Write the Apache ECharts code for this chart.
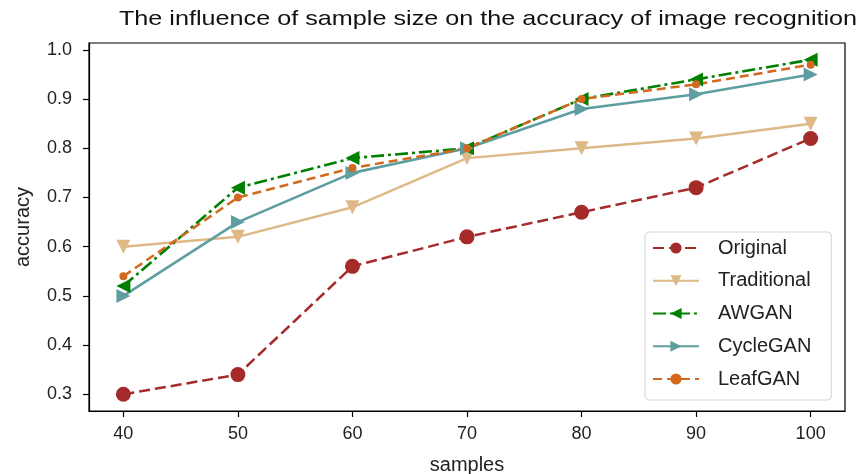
<!DOCTYPE html>
<html>
<head>
<meta charset="utf-8">
<script src="https://cdn.jsdelivr.net/npm/echarts@6/dist/echarts.min.js"></script>
<style>html,body{margin:0;padding:0;background:#fff}#c{width:864px;height:474px}</style>
</head>
<body>
<div id="c"></div>
<script>
var samples = [40, 50, 60, 70, 80, 90, 100];
var original = [0.30, 0.34, 0.56, 0.62, 0.67, 0.72, 0.82];
var traditional = [0.60, 0.62, 0.68, 0.78, 0.80, 0.82, 0.85];
var awgan = [0.52, 0.72, 0.78, 0.80, 0.90, 0.94, 0.98];
var cyclegan = [0.50, 0.65, 0.75, 0.80, 0.88, 0.91, 0.95];
var leafgan = [0.54, 0.70, 0.76, 0.80, 0.90, 0.93, 0.97];
var yTicks = [0.3, 0.4, 0.5, 0.6, 0.7, 0.8, 0.9, 1.0];
var titleText = 'The influence of sample size on the accuracy of image recognition';

function pairs(v) { return samples.map(function (s, i) { return [s, v[i]]; }); }

var FONT = 'Liberation Sans';
var chart = echarts.init(document.getElementById('c'), null, {renderer: 'canvas'});
chart.setOption({
  animation: false,
  backgroundColor: '#fff',
  graphic: [{
    type: 'text', x: 488, y: 19, scaleX: 1.2,
    style: {text: titleText, font: '21px "Liberation Sans"', textAlign: 'center', textVerticalAlign: 'middle', fill: '#111'}
  }],
  grid: {left: 89, right: 19, top: 43, bottom: 63, show: true, borderColor: '#000', borderWidth: 1.2,
    containLabel: false, outerBoundsMode: 'none'},
  xAxis: {
    type: 'value', min: 37, max: 103,
    name: 'samples', nameLocation: 'middle', nameGap: 44,
    nameTextStyle: {fontFamily: FONT, fontSize: 20, color: '#222'},
    axisLine: {show: true, onZero: false, lineStyle: {color: '#000', width: 1.2}},
    axisTick: {show: true, length: 6, customValues: samples, lineStyle: {color: '#000', width: 1.2}},
    axisLabel: {customValues: samples, fontFamily: FONT, fontSize: 18, color: '#222', margin: 14},
    splitLine: {show: false}
  },
  yAxis: {
    type: 'value', min: 0.266, max: 1.014,
    name: 'accuracy', nameLocation: 'middle', nameGap: 56, nameRotate: 90,
    nameTextStyle: {fontFamily: FONT, fontSize: 20, color: '#222'},
    axisLine: {show: true, onZero: false, lineStyle: {color: '#000', width: 1.2}},
    axisTick: {show: true, length: 6, customValues: yTicks, lineStyle: {color: '#000', width: 1.2}},
    axisLabel: {customValues: yTicks, fontFamily: FONT, fontSize: 18, color: '#222', margin: 17,
      formatter: function (v) { return v.toFixed(1); }},
    splitLine: {show: false}
  },
  legend: {
    orient: 'vertical', left: 645, top: 232,
    itemWidth: 46, itemHeight: 14, itemGap: 12.75,
    padding: [6, 20, 11, 7],
    backgroundColor: 'rgba(255,255,255,0.8)', borderColor: '#d6d6d6', borderWidth: 1, borderRadius: 4,
    textStyle: {fontFamily: FONT, fontSize: 20, lineHeight: 20, color: '#222', padding: [0, 0, 0, 14]},
    data: ['Original', 'Traditional', 'AWGAN', 'CycleGAN', 'LeafGAN']
  },
  series: [
    {name: 'Original', type: 'line', data: pairs(original), color: '#A52A2A',
      symbol: 'circle', symbolSize: 15,
      lineStyle: {width: 2.5, type: [11, 5]}, itemStyle: {color: '#A52A2A'}},
    {name: 'Traditional', type: 'line', data: pairs(traditional), color: '#DEB887',
      symbol: 'triangle', symbolRotate: 180, symbolSize: 14,
      lineStyle: {width: 2.5, type: 'solid'}, itemStyle: {color: '#DEB887'}},
    {name: 'AWGAN', type: 'line', data: pairs(awgan), color: '#008000',
      symbol: 'triangle', symbolRotate: 90, symbolSize: 14,
      lineStyle: {width: 2.6, type: [13, 4, 3, 4]}, itemStyle: {color: '#008000'}},
    {name: 'CycleGAN', type: 'line', data: pairs(cyclegan), color: '#5F9EA0',
      symbol: 'triangle', symbolRotate: -90, symbolSize: 14,
      lineStyle: {width: 2.6, type: 'solid'}, itemStyle: {color: '#5F9EA0'}},
    {name: 'LeafGAN', type: 'line', data: pairs(leafgan), color: '#D2691E',
      symbol: 'circle', symbolSize: 8,
      lineStyle: {width: 2.5, type: [9, 5]}, itemStyle: {color: '#D2691E'}}
  ]
});
</script>
</body>
</html>
